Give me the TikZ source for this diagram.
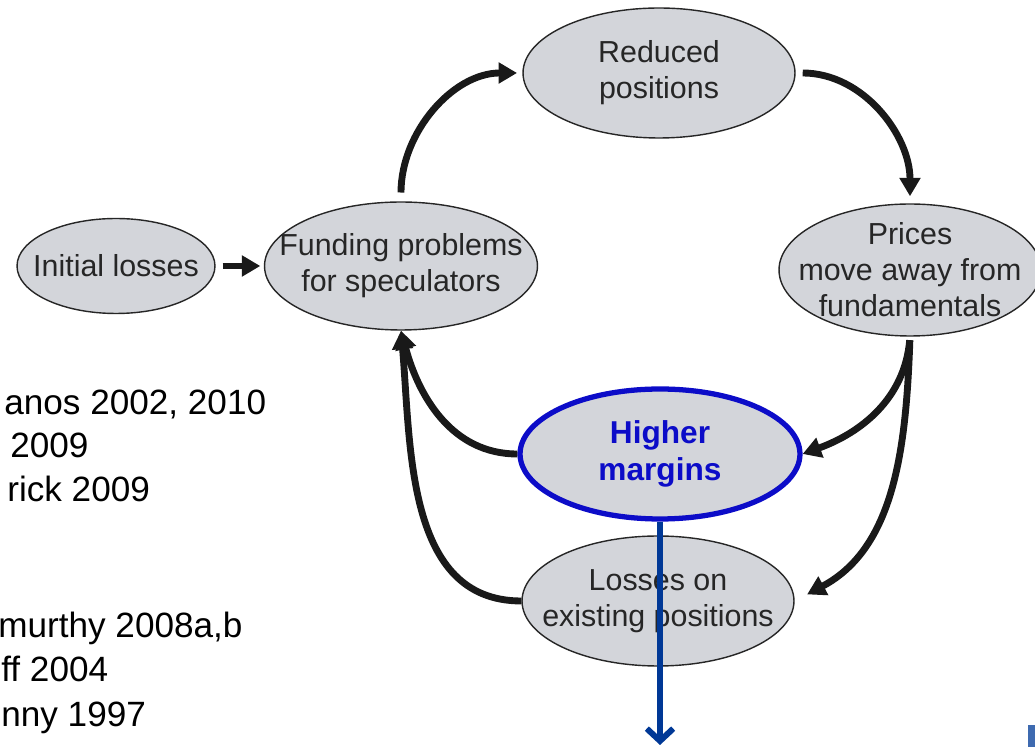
\documentclass[tikz,border=0pt]{standalone}
\usepackage{fontspec}
\setmainfont{Liberation Sans}
\usetikzlibrary{positioning,arrows.meta,shapes.geometric}

\definecolor{ellgray}{RGB}{211,213,218}
\definecolor{hiblue}{RGB}{12,12,200}
\definecolor{arrowblue}{RGB}{0,56,150}
\definecolor{tabblue}{RGB}{62,106,176}

\begin{document}
\begin{tikzpicture}[
  x=0.02cm, y=0.02cm,
  ellnode/.style={ellipse, draw=black!85, fill=ellgray, line width=0.8pt, inner sep=0pt},
  elltext/.style={align=center, inner sep=0pt, text=black!85, font=\fontsize{17.3}{20.5}\selectfont},
  loopmap/.style={-{Triangle[length=10.5pt,width=11.5pt]}, draw=black!90, line width=3.9pt},
  marginmap/.style={draw=arrowblue, line width=3.4pt, -{Straight Barb[length=7pt,width=15pt]}},
  refline/.style={anchor=base west, inner sep=0pt, font=\fontsize{20}{24}\selectfont}
]
  \useasboundingbox (0,0) rectangle (1035,747);

  % ellipses of the spiral
  \node[ellnode, minimum width=3.96cm, minimum height=1.9cm] (init) at (116,481) {};
  \node[ellnode, minimum width=5.46cm, minimum height=2.56cm] (fund) at (401,481) {};
  \node[ellnode, minimum width=5.44cm, minimum height=2.6cm] (red) at (659,674) {};
  \node[ellnode, minimum width=5.24cm, minimum height=2.64cm] (prc) at (910,477) {};
  \node[ellnode, draw=hiblue, line width=3pt, minimum width=5.6cm, minimum height=2.6cm] (hm) at (660,293) {};
  \node[ellnode, minimum width=5.44cm, minimum height=2.6cm] (loss) at (658,146) {};

  \node[elltext] (inittxt) at (init) {Initial losses};
  \node[elltext] (fundtxt) at (fund) {Funding problems\\for speculators};
  \node[elltext] (redtxt) at (red) {Reduced\\positions};
  \node[elltext] (prctxt) at (prc) {Prices\\move away from\\fundamentals};
  \node[elltext, text=hiblue, font=\fontsize{18}{21.5}\selectfont\bfseries] (hmtxt) at (hm) {Higher\\margins};
  \node[elltext] (losstxt) at (loss) {Losses on\\existing positions};

  % loop arrows
  \draw[loopmap, shorten <=4pt, shorten >=2pt] (init) -- (fund);
  \draw[loopmap, shorten <=5pt, shorten >=3pt] (fund.north) to[out=90, in=180] (red.west);
  \draw[loopmap, shorten <=4pt, shorten >=4pt] (red.east) to[out=0, in=90] (prc.north);
  \draw[loopmap, shorten <=2pt] (prc.south) to[out=-95, in=20] (hm.east);
  \draw[loopmap, shorten <=2pt, shorten >=8pt] (prc.south) to[out=-92, in=28] (loss.east);
  \draw[loopmap] (hm.west) to[out=180, in=-75] (fund.south);
  \draw[loopmap] (loss.west) to[out=180, in=-85] (fund.south);

  % margin arrow
  \coordinate (bot) at (660,2);
  \draw[marginmap] (hm.south) -- (bot);

  % references, cut at the left edge
  \node[refline] (ref1) at (4,332) {anos 2002, 2010};
  \node[refline] (ref2) at (10,289) {2009};
  \node[refline] (ref3) at (7,245) {rick 2009};
  \node[refline] (ref4) at (-2,109) {murthy 2008a,b};
  \node[refline] (ref5) at (1,65) {ff 2004};
  \node[refline] (ref6) at (1,20) {nny 1997};

  \fill[tabblue] (1028,0) rectangle (1035,22);
\end{tikzpicture}
\end{document}
